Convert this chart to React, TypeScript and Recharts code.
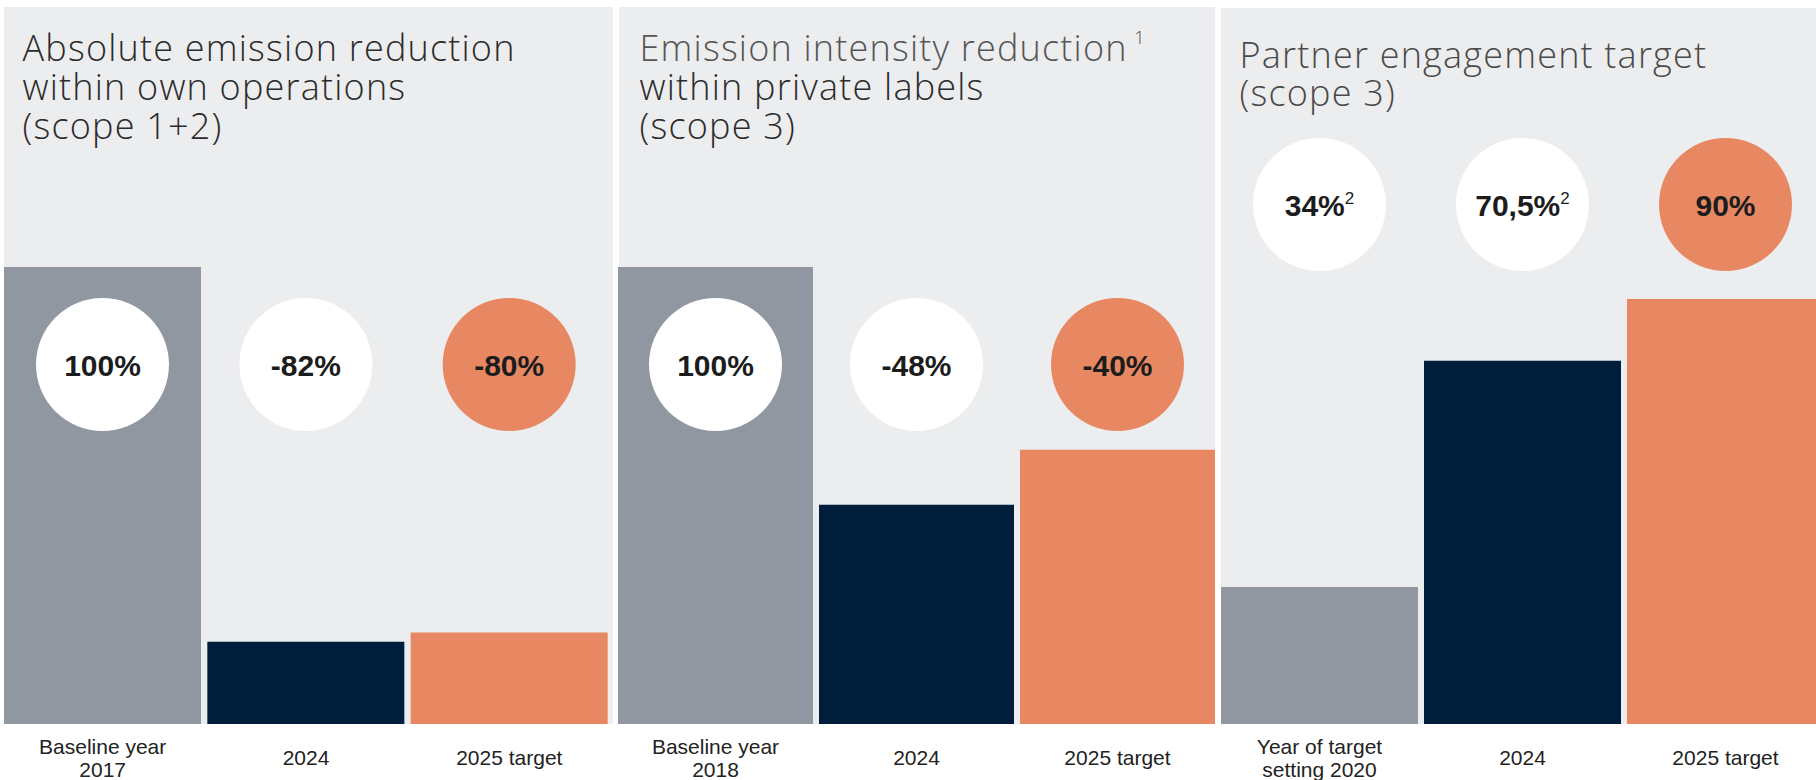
import { Bar, BarChart, Cell, LabelList, XAxis, YAxis } from 'recharts';

// panel 1: absolute emission reduction, own operations
const ownOpsCategories = ['Baseline year\n2017', '2024', '2025 target'];
const ownOpsValues = [100, 18, 20];
const ownOpsBadges = ['100%', '-82%', '-80%'];

// panel 2: emission intensity, private labels
const privateCategories = ['Baseline year\n2018', '2024', '2025 target'];
const privateValues = [100, 48, 60];
const privateBadges = ['100%', '-48%', '-40%'];

// panel 3: partner engagement
const partnerCategories = ['Year of target\nsetting 2020', '2024', '2025 target'];
const partnerValues = [30, 79.5, 93];
const partnerBadges = ['34%', '70,5%', '90%'];
const partnerNotes = ['2', '2', ''];

const BAR_COLORS = ['#9197A0', '#001E3B', '#E88862'];
const BADGE_FILLS = ['#FFFFFF', '#FFFFFF', '#E88862'];
const PANEL_BG = '#ECEDEF';
const TITLE_FONT = "'Open Sans', 'Liberation Sans', sans-serif";
const LABEL_FONT = "'Liberation Sans', Arial, Helvetica, sans-serif";

function buildRows(categories: string[], values: number[], badges: string[]) {
    return categories.map((category, i) => ({
        category,
        value: values[i],
        badge: badges[i],
    }));
}

function CategoryTick(props: any) {
    const { x, y, payload } = props;
    const lines = String(payload.value).split('\n');
    const offsets = lines.length > 1 ? [29.5, 52.5] : [40.5];
    return (
        <text textAnchor='middle' fontFamily={LABEL_FONT} fontSize={21} fill='#222222'>
            {lines.map((line, i) => (
                <tspan key={i} x={x} y={y + offsets[i]}>
                    {line}
                </tspan>
            ))}
        </text>
    );
}

function makeBadge(cy: number, notes: string[]) {
    return function Badge(props: any) {
        const vb = props.viewBox || {};
        const x = Number(props.x ?? vb.x);
        const width = Number(props.width ?? vb.width);
        const index = props.index ?? 0;
        const cx = x + width / 2;
        const note = notes[index];
        return (
            <g>
                <circle cx={cx} cy={cy} r={66.5} fill={BADGE_FILLS[index]} />
                <text
                    x={cx}
                    y={cy + 11}
                    textAnchor='middle'
                    fontFamily={LABEL_FONT}
                    fontWeight={700}
                    fontSize={30}
                    fill='#1C1C1C'
                >
                    {props.value}
                    {note ? (
                        <tspan fontSize={17} fontWeight={400} dy={-12}>
                            {note}
                        </tspan>
                    ) : null}
                </text>
            </g>
        );
    };
}

interface PanelProps {
    rows: { category: string; value: number; badge: string }[];
    left: number;
    width: number;
    barSize: number;
    badgeY: number;
    notes: string[];
}

function Panel({ rows, left, width, barSize, badgeY, notes }: PanelProps) {
    return (
        <div style={{ position: 'absolute', left, top: 0 }}>
            <BarChart
                width={width}
                height={780}
                data={rows}
                margin={{ top: 267, right: 0, left: 0, bottom: 0 }}
                barCategoryGap={0}
            >
                <XAxis
                    dataKey='category'
                    axisLine={false}
                    tickLine={false}
                    tickSize={0}
                    tickMargin={0}
                    height={56}
                    interval={0}
                    tick={<CategoryTick />}
                />
                <YAxis hide domain={[0, 100]} allowDataOverflow />
                <Bar dataKey='value' barSize={barSize} isAnimationActive={false}>
                    {rows.map((_, i) => (
                        <Cell key={i} fill={BAR_COLORS[i]} />
                    ))}
                    <LabelList dataKey='badge' content={makeBadge(badgeY, notes)} />
                </Bar>
            </BarChart>
        </div>
    );
}

function TitleLine({ x, y, fill, children }: { x: number; y: number; fill: string; children: any }) {
    return (
        <text
            x={x}
            y={y}
            fontFamily={TITLE_FONT}
            fontWeight={300}
            fontSize={36}
            letterSpacing={1.2}
            fill={fill}
        >
            {children}
        </text>
    );
}

export default function App() {
    const ownOps = buildRows(ownOpsCategories, ownOpsValues, ownOpsBadges);
    const privateLabels = buildRows(privateCategories, privateValues, privateBadges);
    const partners = buildRows(partnerCategories, partnerValues, partnerBadges);
    const noNotes = ['', '', ''];

    return (
        <div
            style={{
                position: 'absolute',
                left: 0,
                top: 0,
                width: 1816,
                height: 780,
                overflow: 'hidden',
                background: '#FFFFFF',
            }}
        >
            <div style={{ position: 'absolute', left: 4, top: 7, width: 609, height: 717, background: PANEL_BG }} />
            <div style={{ position: 'absolute', left: 619, top: 7, width: 596, height: 717, background: PANEL_BG }} />
            <div style={{ position: 'absolute', left: 1221, top: 8, width: 595, height: 716, background: PANEL_BG }} />

            <svg width={1816} height={180} style={{ position: 'absolute', left: 0, top: 0 }}>
                <TitleLine x={22.5} y={61} fill='#2B2B2B'>Absolute emission reduction</TitleLine>
                <TitleLine x={22.5} y={100} fill='#2B2B2B'>within own operations</TitleLine>
                <TitleLine x={22.5} y={139} fill='#2B2B2B'>(scope 1+2)</TitleLine>

                <TitleLine x={639.5} y={61} fill='#555555'>Emission intensity reduction</TitleLine>
                <text x={1134} y={44} fontFamily={TITLE_FONT} fontWeight={300} fontSize={19} fill='#555555'>1</text>
                <TitleLine x={639.5} y={100} fill='#2B2B2B'>within private labels</TitleLine>
                <TitleLine x={639.5} y={139} fill='#2B2B2B'>(scope 3)</TitleLine>

                <TitleLine x={1239.5} y={68} fill='#4A4A4A'>Partner engagement target</TitleLine>
                <TitleLine x={1239.5} y={106} fill='#4A4A4A'>(scope 3)</TitleLine>
            </svg>

            <Panel rows={ownOps} left={1} width={610} barSize={197} badgeY={364.5} notes={noNotes} />
            <Panel rows={privateLabels} left={615} width={603} barSize={195} badgeY={364.5} notes={noNotes} />
            <Panel rows={partners} left={1218} width={609} barSize={197} badgeY={204.5} notes={partnerNotes} />
        </div>
    );
}
